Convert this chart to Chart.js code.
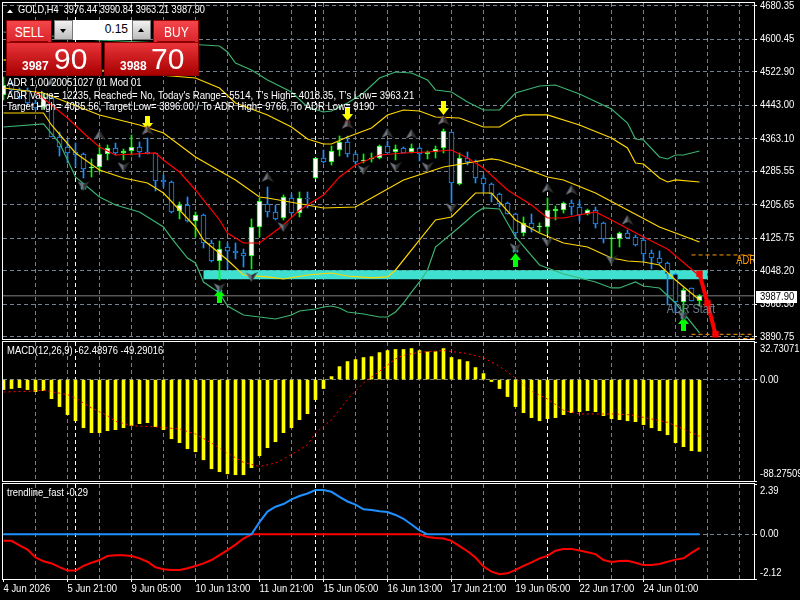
<!DOCTYPE html>
<html lang="en">
<head>
<meta charset="UTF-8">
<title>GOLD,H4</title>
<script src="https://cdn.jsdelivr.net/npm/chart.js@4/dist/chart.umd.min.js"></script>
<style>
html, body { margin: 0; padding: 0; background: #000; width: 800px; height: 600px; overflow: hidden; }
canvas { position: absolute; left: 0; }
#mainChart { top: 0; }
#macdChart { top: 341px; }
#trendChart { top: 483px; }
.trade { position: absolute; color: #fff; font-family: "Liberation Sans", sans-serif; box-sizing: border-box; }
.redBtn { background: linear-gradient(#f4464c, #d9252b); border: 1px solid #8c0000; text-align: center; font: 15px/21px "Liberation Sans", sans-serif; }
.redBtn span { display: inline-block; transform: scaleX(0.8); }
.redBtn i { position: absolute; left: 3px; right: 3px; top: 20px; height: 1px; background: #8c0000; }
.quote { background: linear-gradient(#e9343a, #a80000); border: 1px solid #8c0000; }
.quote b { position: absolute; top: 16px; font-size: 12px; line-height: 14px; }
.quote span { position: absolute; top: -2px; font-size: 30px; line-height: 36px; }
.spin { background: linear-gradient(#f2f2f2, #bdbdbd); border: 1px solid #777; }
.lots { background: #fff; color: #000; text-align: right; padding-right: 4px; font: 12px/19px "Liberation Sans", sans-serif; }
.tri { position: absolute; left: 5px; width: 0; height: 0; border-left: 3px solid transparent; border-right: 3px solid transparent; }
</style>
</head>
<body>
<canvas id="mainChart" width="800" height="340"></canvas>
<canvas id="macdChart" width="800" height="141"></canvas>
<canvas id="trendChart" width="800" height="117"></canvas>

<div class="trade redBtn" style="left:6px;top:20px;width:46px;height:23px"><span>SELL</span><i></i></div>
<div class="trade spin" style="left:54px;top:20px;width:19px;height:20px"><div class="tri" style="top:8px;border-top:4px solid #000"></div></div>
<div class="trade lots" style="left:73px;top:20px;width:59px;height:20px">0.15</div>
<div class="trade spin" style="left:132px;top:20px;width:19px;height:20px"><div class="tri" style="top:7px;border-bottom:4px solid #000"></div></div>
<div class="trade redBtn" style="left:153px;top:20px;width:46px;height:23px"><span>BUY</span><i></i></div>
<div class="trade quote" style="left:6px;top:42px;width:96px;height:34px"><b style="left:15px">3987</b><span style="left:47px">90</span></div>
<div class="trade quote" style="left:104px;top:42px;width:95px;height:34px"><b style="left:15px">3988</b><span style="left:46px">70</span></div>

<script>
// price panel, four hour bars
const openPrices = [4467.7,4494,4479.7,4479.7,4448.6,4439,4460.6,4367.4,4343.5,4331.6,4326.8,4293.3,4295.7,4326.8,4341.1,4329.2,4333.9,4343.5,4331.6,4329.2,4264.7,4259.9,4190.6,4205,4166.7,4181,4114.2,4071.1,4104.6,4095,4090.3,4083.1,4152.4,4207.3,4188.2,4173.9,4221.7,4185.8,4221.7,4269.5,4317.2,4307.7,4336.3,4355.4,4326.8,4310.1,4314.9,4317.2,4345.9,4331.6,4341.1,4331.6,4341.1,4326.8,4331.6,4341.1,4379.3,4255.1,4317.2,4310.1,4269.5,4255.1,4231.2,4209.7,4183.4,4138,4162,4152.4,4152.4,4190.6,4193,4209.7,4200.2,4183.4,4193,4162,4123.7,4123.7,4138,4128.5,4121.3,4090.3,4078.3,4066.4,4040.1,3973.2,4006.7,3976.44];
const highPrices = [4510.7,4498.8,4484.5,4484.5,4455.8,4470.1,4467.7,4379.3,4360.2,4353,4329.2,4314.9,4348.3,4348.3,4353,4338.7,4372.2,4355.4,4365,4329.2,4276.6,4262.3,4212.1,4224.1,4188.2,4183.4,4121.3,4118.9,4114.2,4114.2,4099.8,4171.5,4221.7,4247.9,4204.9,4228.8,4231.2,4236,4236,4317.2,4336.3,4345.9,4369.8,4369.8,4331.6,4326.8,4329.2,4348.3,4357.8,4348.3,4343.5,4350.7,4343.5,4334,4345.9,4386.5,4379.3,4329.2,4331.6,4312.5,4276.6,4257.5,4233.6,4212.1,4185.8,4176.3,4183.4,4162,4221.7,4202.5,4212.1,4216.9,4214.5,4195.4,4200.2,4164.3,4128.5,4140.4,4145.2,4133.3,4130.9,4097.4,4095,4068.8,4042.5,4006.7,4006.7,3990.84];
const lowPrices = [4455.8,4474.9,4458.2,4443.8,4431.9,4434.3,4367.4,4322,4305.3,4295.7,4269.5,4271.9,4283.8,4312.5,4324.4,4312.5,4324.4,4319.6,4326.8,4238.4,4248,4185.8,4171.5,4164.3,4128.5,4102.2,4068.8,4025.8,4052,4076,4056.8,4052,4128.5,4176.3,4169.1,4169.1,4183.4,4176.3,4197.8,4267.1,4305.3,4300.5,4322,4319.6,4302.9,4305.3,4307.7,4314.9,4329.2,4312.5,4329.2,4329.2,4310.1,4314.9,4317.2,4329.2,4209.7,4252.7,4300.5,4257.5,4236,4212.1,4200.2,4183.4,4126,4130.9,4140.4,4140.4,4135.7,4169.1,4185.8,4181,4166.7,4181,4150,4114.2,4066.4,4104.6,4126.1,4107,4068.8,4052,4064,3966,3947,3949.3,3975.6,3963.21];
const closePrices = [4491.6,4479.7,4463,4448.6,4436.7,4463,4367.4,4343.5,4329.2,4324.4,4291,4295.7,4326.8,4341.1,4329.2,4333.9,4343.5,4331.6,4326.8,4262.3,4259.9,4188.2,4205,4166.7,4181,4114.2,4071.1,4099.8,4095,4090.3,4083.1,4152.4,4214.5,4188.2,4171.5,4224,4185.8,4221.7,4219.3,4317.2,4307.7,4333.9,4355.4,4326.8,4307.7,4312.5,4317.2,4345.9,4329.2,4338.7,4329.2,4341.1,4326.8,4331.6,4338.7,4381.7,4257.5,4317.2,4307.7,4269.5,4255.1,4231.2,4207.3,4183.4,4138,4162,4150,4154.8,4193,4195.4,4209.7,4200.2,4181,4193,4159.6,4123.7,4126.1,4138,4126.1,4109.4,4088,4078.3,4066.4,4040.1,3973.2,4001.9,3975.6,3987.9];

// envelope lines, read at the bars where they bend
const outerUpperBars = [0,12,25,27,28,29,31,33,36,38,40,41,43,45,47,49,51,53,54,56,58,60,62,64,67,69,72,76,78,79,80,82,83,84,85,87];
const outerUpper = [4618.2,4599.1,4587.2,4584.8,4570.5,4544.2,4527.5,4503.6,4474.9,4439,4427.1,4429.5,4448.6,4472.5,4508.4,4522.7,4520.3,4503.6,4479.7,4474.9,4451,4431.9,4431.9,4472.5,4489.2,4491.6,4470.1,4434.3,4400.8,4362.6,4360.2,4319.6,4314.9,4324.4,4324.4,4333.9];
const innerUpperBars = [0,12,24,27,29,33,36,38,40,41,43,46,48,50,52,54,57,60,62,64,65,68,72,76,78,79,80,82,83,84,87];
const innerUpper = [4551.4,4527.5,4508.4,4484.5,4448.6,4420,4391.3,4362.6,4350.7,4350.7,4367.4,4388.9,4420,4431.9,4429.5,4415.2,4412.8,4391.3,4391.3,4415.2,4420,4420,4396.1,4365,4341.1,4305.3,4302.9,4269.5,4259.9,4264.7,4259.9];
const centerBars = [0,5,12,17,20,24,29,32,33,40,44,50,55,61,62,65,68,70,74,78,82,87];
const centerLine = [4484.5,4472.5,4420,4396.1,4377,4319.6,4264.7,4224.1,4221.7,4197.8,4200.2,4264.7,4295.7,4314.9,4312.5,4293.3,4271.9,4264.7,4233.6,4193,4152.4,4116.5];
const innerLowerBars = [0,5,6,9,12,15,18,20,22,24,25,28,30,33,35,38,41,43,46,48,49,54,56,59,61,64,67,70,73,76,78,80,82,84,87];
const innerLower = [4424.7,4424.7,4396.1,4329.2,4288.6,4269.5,4257.5,4233.6,4193,4152.4,4121.3,4073.5,4037.7,4033,4028.2,4037.7,4042.5,4035.3,4030.6,4033,4049.7,4169.1,4176.3,4233.6,4233.6,4169.1,4138,4114.2,4104.6,4078.3,4071.1,4068.8,4061.6,4025.8,3978];
const outerLowerBars = [0,5,7,9,12,14,17,20,21,23,24,25,27,28,30,32,34,35,36,37,39,40,41,42,43,45,47,48,49,50,51,52,53,54,57,59,60,62,64,67,70,74,76,77,79,80,82,84,87];
const outerLower = [4391.3,4398.5,4353,4271.9,4224.1,4204.9,4188.2,4152.4,4126,4078.3,4066.4,4021,3994.7,3963.6,3942.2,3937.4,3932.6,3937.4,3942.2,3951.7,3956.5,3961.3,3963.6,3958.9,3949.3,3944.5,3937.4,3937.4,3949.3,3970.8,3997,4021,4049.7,4104.6,4152.4,4185.8,4197.8,4195.4,4128.5,4061.6,4040.1,4021,4006.7,4006.7,4021,4011.4,4006.7,3970.8,3899.2];
const fastMaBars = [4,6,8,10,12,14,19,20,22,24,26,27,28,30,32,33,35,37,40,42,44,47,50,53,56,58,60,63,66,68,70,74,76,80,83,87];
const fastMa = [4474.9,4443.8,4412.8,4377,4343.5,4324.4,4329.2,4312.5,4283.8,4240.8,4193,4169.1,4138,4114.2,4114.2,4128.5,4157.2,4193,4228.8,4271.9,4300.5,4324.4,4329.2,4331.6,4336.3,4317.2,4293.3,4240.8,4205,4173.9,4173.9,4188.2,4169.1,4128.5,4099.8,4035.3];

// signal markers on the price panel
const fractalUpBars = [6,12,18,33,43,48,51,55,68,71,78];
const fractalUp = [4498.8,4372.2,4384.1,4271.9,4398.5,4377,4374.6,4408,4245.6,4240.8,4169.1];
const fractalDownBars = [10,15,27,31,35,45,49,53,56,64,68,76,85];
const fractalDown = [4250.3,4295.7,4006.7,4033,4152.4,4288.6,4295.7,4295.7,4197.8,4102,4116.5,4073.5,3939.8];
const sellArrowBars = [18,43,55];
const sellArrows = [4400.9,4422.3,4436.7];
const sellCrosses = [4384.1,4398.5,4408];
const buyArrowBars = [27,64,85];
const buyArrows = [3987.5,4073.5,3920.7];
const buyCrossBars = [10,27,64,85];
const buyCrosses = [4250.3,4004.3,4099.8,3939.8];

// ADR levels
const adrZoneBars = [25,88];
const adrZonePrice = 4038.5;
const adrPathBars = [87,88,89];
const adrPath = [4040.8,3970.1,3896];
const adrLevelBars = [86,94];
const adrHigh = 4085.56;
const adrLow = 3896;
const lastPrice = 3987.9;

// axis ticks
const priceTicks = [4680.35,4600.45,4522.9,4443,4363.1,4285.55,4205.65,4125.75,4048.2,3968.3,3890.75];
const priceTickLabels = ['4680.35','4600.45','4522.90','4443.00','4363.10','4285.55','4205.65','4125.75','4048.20','3968.30','3890.75'];
const gridBars = [4,8,12,16,20,24,28,32,36,40,44,48,52,56,60,64,68,72,76,80,84,88,92];
const daySeparators = [9,39,68];
const timeTickBars = [0,8,16,24,32,40,48,56,64,72,80];
const timeTickLabels = ['4 Jun 2026','5 Jun 21:00','9 Jun 05:00','10 Jun 13:00','11 Jun 21:00','15 Jun 05:00','16 Jun 13:00','17 Jun 21:00','19 Jun 05:00','22 Jun 17:00','24 Jun 01:00'];

// MACD panel
const macdHist = [-8.7,-7.8,-7,-8.7,-10.5,-9.6,-16.6,-23.5,-30.5,-35.8,-41.9,-46.2,-46.2,-44.5,-43.6,-41.9,-40.1,-38.4,-37.5,-41,-43.6,-51.5,-54.9,-60.2,-62.8,-69.8,-77.6,-80.2,-82,-82.8,-82.8,-76.7,-66.3,-59.3,-54.1,-46.2,-41.9,-34.9,-29.7,-17.4,-7.8,2.6,11.3,15.7,17.4,19.2,20,23.5,25.3,26.2,26.2,27,25.3,24.1,24.4,27,19.2,17.4,15.7,10.5,5.2,-1.7,-7.8,-14.8,-23.5,-28.8,-33.1,-35.8,-34,-33.1,-30.5,-28.8,-27.9,-27,-27.9,-31.4,-34,-34.9,-35.8,-36.6,-39.2,-41.9,-44.5,-48,-54.9,-58.4,-61.9,-62.48976];
const signalBars = [0,3,5,8,9,11,13,14,16,19,22,24,26,28,30,32,34,36,38,39,41,43,45,47,49,50,52,55,58,60,62,64,66,68,70,72,76,78,79,81,83,85,87];
const signalLine = [-10.8,-10.2,-9.3,-13.1,-16,-24.7,-31.4,-36.3,-40.1,-41.3,-43,-47.4,-55.2,-64,-72,-75.6,-72.7,-65.4,-56.7,-46.5,-34.9,-17.4,-2.9,7.3,18,21.2,23.8,25.3,22.7,18.9,11.6,1.5,-10.2,-16.9,-26.7,-29.9,-29.9,-30.5,-31.4,-34.3,-37.2,-43,-49.29016];

// trendline_fast panel
const trendUp = [0,0,0,0,0,0,0,0,0,0,0,0,0,0,0,0,0,0,0,0,0,0,0,0,0,0,0,0,0,0,0,0,0.58,1.08,1.31,1.44,1.66,1.82,1.94,2.1,2.1,2.02,1.78,1.56,1.41,1.19,1.16,1.1,1.06,0.92,0.74,0.47,0.19,0,0,0,0,0,0,0,0,0,0,0,0,0,0,0,0,0,0,0,0,0,0,0,0,0,0,0,0,0,0,0,0,0,0,0];
const trendDown = [-0.31,-0.31,-0.52,-0.72,-1.1,-1.28,-1.38,-1.56,-1.72,-1.72,-1.5,-1.35,-1.22,-1.03,-0.99,-0.99,-1.03,-1.14,-1.3,-1.56,-1.66,-1.69,-1.69,-1.61,-1.5,-1.38,-1.22,-0.99,-0.75,-0.49,-0.2,0,0,0,0,0,0,0,0,0,0,0,0,0,0,0,0,0,0,0,0,0,0,-0.13,-0.17,-0.2,-0.31,-0.56,-0.8,-1.1,-1.53,-1.77,-1.89,-1.85,-1.69,-1.5,-1.33,-1.14,-1.02,-0.78,-0.7,-0.69,-0.77,-0.85,-0.94,-1.22,-1.31,-1.27,-1.25,-1.35,-1.46,-1.46,-1.41,-1.3,-1.2,-1.14,-0.88,-0.64];

const labelFont = '11px "Liberation Sans", sans-serif';
const barIndex = openPrices.map((_, i) => i);
const points = (xs, ys) => xs.map((x, i) => ({ x: x, y: ys[i] }));

function sprite(w, h, paint) {
  const c = document.createElement('canvas');
  c.width = w; c.height = h;
  paint(c.getContext('2d'));
  return c;
}
function poly(ctx, color, pts) {
  ctx.fillStyle = color;
  ctx.beginPath();
  pts.forEach((p, i) => i ? ctx.lineTo(p[0], p[1]) : ctx.moveTo(p[0], p[1]));
  ctx.closePath();
  ctx.fill();
}
const yellowDown = sprite(11, 14, c => poly(c, '#ffff00', [[3,0],[8,0],[8,7],[11,7],[5.5,14],[0,7],[3,7]]));
const greenUp = sprite(11, 14, c => poly(c, '#00ff00', [[5.5,0],[11,7],[8,7],[8,14],[3,14],[3,7],[0,7]]));
const grayUp = sprite(12, 10, c => {
  poly(c, '#6a727c', [[6,0],[6,7],[0,10]]);
  poly(c, '#333333', [[6,0],[12,10],[6,7]]);
});
const grayDown = sprite(12, 10, c => {
  poly(c, '#6a727c', [[0,0],[6,3],[6,10]]);
  poly(c, '#333333', [[12,0],[6,10],[6,3]]);
});
const crossMark = color => sprite(7, 7, c => {
  c.strokeStyle = color; c.lineWidth = 2;
  c.beginPath(); c.moveTo(1,1); c.lineTo(6,6); c.moveTo(6,1); c.lineTo(1,6); c.stroke();
});

function markerSet(xs, ys, style, radius) {
  return { type: 'line', data: points(xs, ys), showLine: false, order: 1,
    pointStyle: style, pointRadius: radius, pointHoverRadius: radius };
}
function bandLine(xs, ys, color, order) {
  return { type: 'line', data: points(xs, ys), borderColor: color, borderWidth: 1.2, pointRadius: 0, tension: 0, order: order };
}
function flatLine(xs, y, color, width, order, dash) {
  return { type: 'line', data: xs.map(x => ({ x: x, y: y })), borderColor: color, borderWidth: width,
    borderDash: dash || [], pointRadius: 0, order: order };
}
// the platform's label font is narrower than anything installed
function squeezedText(ctx, text, x, y, squeeze) {
  ctx.save();
  ctx.translate(x, y);
  ctx.scale(squeeze || 0.86, 1);
  ctx.fillText(text, 0, 0);
  ctx.restore();
}

// x axis shared by the three panels: one bar is 8px wide
function barAxis(withTicks) {
  return {
    type: 'linear',
    offset: false,
    min: -0.0625,
    max: 93.8125,
    afterBuildTicks: s => {
      const seen = gridBars.concat(daySeparators, timeTickBars);
      s.ticks = Array.from(new Set(seen)).sort((a, b) => a - b).map(v => ({ value: v }));
    },
    afterFit: s => { s.height = withTicks ? 21 : 0; },
    border: { display: false, dash: [4, 3] },
    ticks: { display: false },
    grid: {
      offset: false,
      drawTicks: withTicks,
      tickLength: 3,
      tickBorderDash: [],
      color: c => c.tick.value === 0 ? 'transparent'
        : daySeparators.includes(c.tick.value) ? '#ffffff' : '#76828f',
      tickColor: c => timeTickBars.includes(c.tick.value) ? '#ffffff' : 'transparent'
    }
  };
}
// right value axis, labels are placed by the panelText plugin
function valueAxis(min, max, ticks, gridFor) {
  return {
    position: 'right',
    min: min,
    max: max,
    afterBuildTicks: s => { s.ticks = ticks.map(v => ({ value: v })); },
    afterFit: s => { s.width = 46; },
    border: { display: false, dash: [4, 3] },
    ticks: { display: false },
    grid: {
      tickLength: 3,
      tickBorderDash: [],
      color: c => gridFor(c.tick.value) ? '#76828f' : 'transparent',
      tickColor: '#ffffff'
    }
  };
}

// frame and all canvas text of a panel
const panelText = {
  id: 'panelText',
  afterDraw(chart, args, opts) {
    const { ctx, chartArea: a, scales } = chart;
    const y = scales.y;
    ctx.save();
    ctx.strokeStyle = '#ffffff';
    ctx.lineWidth = 1;
    ctx.strokeRect(a.left - 0.5, a.top - 0.5, a.right - a.left + 1, a.bottom - a.top + 1);
    ctx.textBaseline = 'middle';
    ctx.textAlign = 'left';
    ctx.font = labelFont;
    ctx.fillStyle = '#ffffff';
    (opts.notes || []).forEach(n => squeezedText(ctx, n.text, n.x, n.y, n.narrow));
    (opts.axisLabels || []).forEach(l => squeezedText(ctx, l.text, 760, y.getPixelForValue(l.value) + (l.nudge || 0)));
    if (opts.timeLabels) {
      timeTickBars.forEach((b, i) => squeezedText(ctx, timeTickLabels[i], scales.x.getPixelForValue(b), a.bottom + 10));
    }
    ctx.restore();
    if (opts.drawExtras) opts.drawExtras(chart);
  }
};

function priceExtras(chart) {
  const { ctx, chartArea: a, scales: { x, y } } = chart;
  ctx.save();
  // ADR captions are cut off at the plot edge
  ctx.beginPath();
  ctx.rect(a.left, a.top, a.right - a.left, a.bottom - a.top);
  ctx.clip();
  ctx.textBaseline = 'middle';
  ctx.font = '12px "Liberation Sans", sans-serif';
  ctx.fillStyle = '#ff9a00';
  squeezedText(ctx, 'ADR High', x.getPixelForValue(91.6), y.getPixelForValue(adrHigh) + 6, 0.78);
  squeezedText(ctx, 'ADR Low', x.getPixelForValue(91.6), y.getPixelForValue(adrLow) + 9, 0.78);
  ctx.fillStyle = '#6f8090';
  squeezedText(ctx, 'ADR Start', x.getPixelForValue(82.9), y.getPixelForValue(3954), 0.9);
  ctx.restore();
  // last price tag
  const py = Math.round(y.getPixelForValue(lastPrice));
  ctx.save();
  ctx.fillStyle = '#ffffff';
  ctx.fillRect(756, py - 5, 41, 12);
  ctx.fillStyle = '#000000';
  ctx.textBaseline = 'middle';
  ctx.font = labelFont;
  squeezedText(ctx, '3987.90', 760, py + 1);
  ctx.fillStyle = '#ffffff';
  ctx.beginPath();
  ctx.moveTo(7, 13); ctx.lineTo(13, 13); ctx.lineTo(10, 9.5); ctx.closePath();
  ctx.fill();
  ctx.restore();
}

const commonOptions = {
  responsive: false,
  animation: false,
  events: [],
  plugins: { legend: { display: false }, tooltip: { enabled: false } }
};

Chart.register(panelText);

new Chart(document.getElementById('mainChart'), {
  type: 'bar',
  data: {
    datasets: [
      flatLine(adrZoneBars, adrZonePrice, '#40e0d0', 9, 12),
      flatLine([-1, 95], lastPrice, '#808080', 1, 11),
      flatLine(adrLevelBars, adrHigh, '#ff9a00', 1, 11, [4, 3]),
      flatLine(adrLevelBars, adrLow, '#ff9a00', 1, 11, [4, 3]),
      {
        data: barIndex.map(i => ({ x: i, y: [lowPrices[i], highPrices[i]] })),
        backgroundColor: barIndex.map(i => closePrices[i] >= openPrices[i] ? '#00ff00' : '#1e90ff'),
        barThickness: 1, grouped: false, borderWidth: 0, order: 9
      },
      {
        data: barIndex.map(i => ({ x: i, y: [openPrices[i], closePrices[i]] })),
        backgroundColor: barIndex.map(i => closePrices[i] >= openPrices[i] ? '#ffffff' : '#000000'),
        borderColor: barIndex.map(i => closePrices[i] >= openPrices[i] ? '#00ff00' : '#1e90ff'),
        barThickness: 5, grouped: false, borderWidth: 1, borderSkipped: false, order: 8
      },
      bandLine(outerUpperBars, outerUpper, '#3cb371', 6),
      bandLine(innerUpperBars, innerUpper, '#ffd700', 6),
      bandLine(centerBars, centerLine, '#ffd700', 6),
      bandLine(innerLowerBars, innerLower, '#ffd700', 6),
      bandLine(outerLowerBars, outerLower, '#3cb371', 6),
      bandLine(fastMaBars, fastMa, '#ff0000', 5),
      { type: 'line', data: points(adrPathBars, adrPath), borderColor: '#ff0000', borderWidth: 4,
        pointStyle: 'rect', pointRadius: 4.5, pointBackgroundColor: '#ff0000', pointBorderWidth: 0, order: 2 },
      markerSet(fractalUpBars, fractalUp, grayUp, 6),
      markerSet(fractalDownBars, fractalDown, grayDown, 6),
      markerSet(sellArrowBars, sellCrosses, crossMark('#ff0000'), 4),
      markerSet(buyCrossBars, buyCrosses, crossMark('#00e5ee'), 4),
      markerSet(sellArrowBars, sellArrows, yellowDown, 6),
      markerSet(buyArrowBars, buyArrows, greenUp, 6)
    ]
  },
  options: {
    ...commonOptions,
    layout: { autoPadding: false, padding: { left: 3, top: 3, bottom: 1, right: 0 } },
    scales: {
      x: barAxis(false),
      y: valueAxis(3884.8, 4687.5, priceTicks, () => true)
    },
    plugins: {
      ...commonOptions.plugins,
      panelText: {
        notes: [
          { text: 'GOLD,H4  3976.44 3990.84 3963.21 3987.90', x: 18, y: 10, narrow: 0.84 },
          { text: 'ADR 1,00 20051027 01 Mod 01', x: 7, y: 83, narrow: 0.87 },
          { text: "ADR Value= 12235, Reached= No, Today's Range= 5514, T's High= 4018.35, T's Low= 3963.21", x: 7, y: 95.5, narrow: 0.87 },
          { text: 'Target High= 4085.56, Target Low= 3896.00 / To ADR High= 9766, To ADR Low= 9190', x: 7, y: 107, narrow: 0.87 }
        ],
        axisLabels: priceTicks.map((v, i) => ({ value: v, text: priceTickLabels[i] })),
        drawExtras: priceExtras
      }
    }
  }
});

new Chart(document.getElementById('macdChart'), {
  type: 'bar',
  data: {
    datasets: [
      { data: barIndex.map(i => ({ x: i, y: macdHist[i] })), backgroundColor: '#ffff00',
        barThickness: 3, grouped: false, borderWidth: 0, order: 3 },
      { type: 'line', data: points(signalBars, signalLine), borderColor: '#ff0000', borderWidth: 1,
        borderDash: [2, 3], pointRadius: 0, order: 1 }
    ]
  },
  options: {
    ...commonOptions,
    layout: { autoPadding: false, padding: { left: 3, top: 1, bottom: 1, right: 0 } },
    scales: {
      x: barAxis(false),
      y: valueAxis(-88.27509, 32.73071, [32.73071, 0, -88.27509], v => v === 0)
    },
    plugins: {
      ...commonOptions.plugins,
      panelText: {
        notes: [{ text: 'MACD(12,26,9) -62.48976 -49.29016', x: 7, y: 10 }],
        axisLabels: [
          { value: 32.73071, text: '32.73071', nudge: 7 },
          { value: 0, text: '0.00' },
          { value: -88.27509, text: '-88.27509', nudge: -7 }
        ]
      }
    }
  }
});

new Chart(document.getElementById('trendChart'), {
  type: 'line',
  data: {
    datasets: [
      { data: points(barIndex, trendDown), borderColor: '#ff0000', borderWidth: 2, pointRadius: 0, order: 2 },
      { data: points(barIndex, trendUp), borderColor: '#1e90ff', borderWidth: 2, pointRadius: 0, order: 1 }
    ]
  },
  options: {
    ...commonOptions,
    layout: { autoPadding: false, padding: { left: 3, top: 1, bottom: 0, right: 0 } },
    scales: {
      x: barAxis(true),
      y: valueAxis(-2.12, 2.39, [2.39, 0, -2.12], v => v === 0)
    },
    plugins: {
      ...commonOptions.plugins,
      panelText: {
        timeLabels: true,
        notes: [{ text: 'trendline_fast -0.29', x: 7, y: 10 }],
        axisLabels: [
          { value: 2.39, text: '2.39', nudge: 7 },
          { value: 0, text: '0.00' },
          { value: -2.12, text: '-2.12', nudge: -6 }
        ]
      }
    }
  }
});
</script>
</body>
</html>
